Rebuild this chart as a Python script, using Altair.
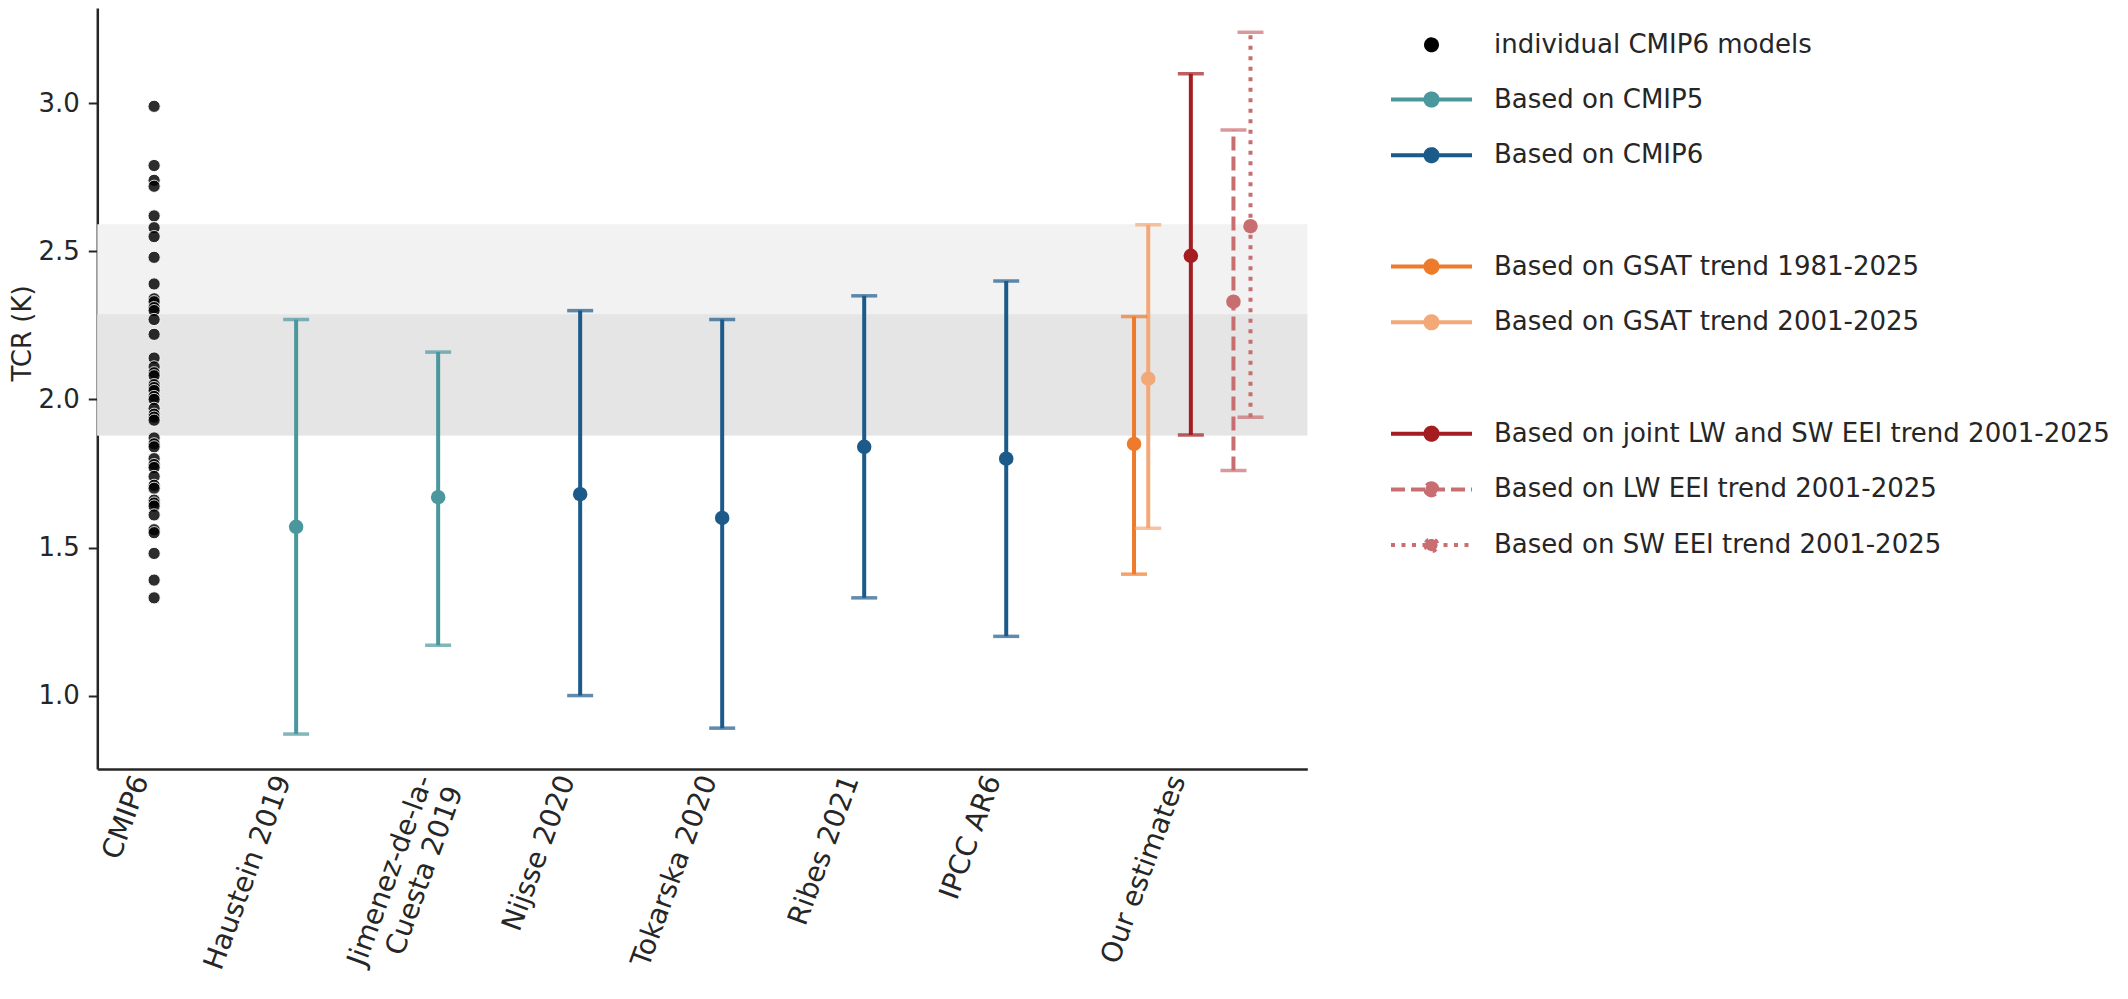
import json
import altair as alt
import pandas as pd

FONT = "DejaVu Sans"
INK = "#262626"

# individual CMIP6 models, TCR in K (all drawn at the first slot)
cmip6_pos = 0
cmip6_tcr = [2.99, 2.79, 2.74, 2.72, 2.62, 2.58, 2.55, 2.48, 2.39, 2.34,
             2.33, 2.31, 2.30, 2.27, 2.22, 2.14, 2.11, 2.09, 2.08, 2.05,
             2.04, 2.03, 2.01, 2.00, 1.97, 1.95, 1.94, 1.93, 1.87, 1.85,
             1.84, 1.80, 1.78, 1.77, 1.74, 1.71, 1.70, 1.66, 1.65, 1.64,
             1.61, 1.56, 1.55, 1.48, 1.39, 1.33]

# published estimates
study_pos = [1, 2, 3, 4, 5, 6]
study_best = [1.57, 1.67, 1.68, 1.60, 1.84, 1.80]
study_low = [0.87, 1.17, 1.00, 0.89, 1.33, 1.20]
study_high = [2.27, 2.16, 2.30, 2.27, 2.35, 2.40]
study_key = ["cmip5", "cmip5", "cmip6", "cmip6", "cmip6", "cmip6"]

# our estimates
our_pos = [6.9, 7.0, 7.3, 7.6, 7.72]
our_best = [1.85, 2.07, 2.485, 2.33, 2.585]
our_low = [1.41, 1.565, 1.88, 1.76, 1.94]
our_high = [2.28, 2.59, 3.10, 2.91, 3.24]
our_key = ["gsat81", "gsat01", "joint", "lw", "sw"]
our_dash = ["solid", "solid", "solid", "dashed", "dotted"]

# x tick positions and labels
tick_pos = [0, 1, 2, 3, 4, 5, 6, 7.3]
tick_labels = ["CMIP6", "Haustein 2019", "Jimenez-de-la-\nCuesta 2019",
               "Nijsse 2020", "Tokarska 2020", "Ribes 2021", "IPCC AR6",
               "Our estimates"]

# shaded ranges
band_low = [1.878, 1.878]
band_high = [2.592, 2.288]
band_colors = ["#F2F2F2", "#E5E5E5"]

key_domain = ["cmip5", "cmip6", "gsat81", "gsat01", "joint", "lw", "sw"]
key_colors = ["#4B979E", "#1C5A8A", "#EE7A2B", "#F3A878", "#A31D21",
              "#C96E70", "#C96E70"]

legend_labels = ["individual CMIP6 models", "Based on CMIP5", "Based on CMIP6",
                 " ",
                 "Based on GSAT trend 1981-2025", "Based on GSAT trend 2001-2025",
                 "  ",
                 "Based on joint LW and SW EEI trend 2001-2025",
                 "Based on LW EEI trend 2001-2025",
                 "Based on SW EEI trend 2001-2025"]
legend_colors = ["#000000", "#4B979E", "#1C5A8A", "#FFFFFF", "#EE7A2B",
                 "#F3A878", "#FFFFFF", "#A31D21", "#C96E70", "#C96E70"]
legend_dashes = [[1, 0]] * 8 + [[14, 6], [4, 6.5]]

DOT = "M-0.27,0A0.27,0.27,0,1,0,0.27,0A0.27,0.27,0,1,0,-0.27,0Z"
LINE = "M-2,0L2,0M-0.3,0A0.3,0.3,0,1,0,0.3,0A0.3,0.3,0,1,0,-0.3,0Z"
legend_shapes = [DOT] + [LINE] * 9

# ---------------------------------------------------------------- tables
dots = pd.DataFrame({"pos": cmip6_pos, "tcr": cmip6_tcr})
bands = pd.DataFrame({"low": band_low, "high": band_high, "c": band_colors})
eb = pd.DataFrame({
    "pos": study_pos + our_pos,
    "best": study_best + our_best,
    "low": study_low + our_low,
    "high": study_high + our_high,
    "key": study_key + our_key,
    "dash": ["solid"] * len(study_pos) + our_dash,
})
leg = pd.DataFrame({"label": legend_labels, "show": False})


def lit(lbl):
    parts = lbl.split("\n")
    return json.dumps(parts if len(parts) > 1 else parts[0])


label_expr = " : ".join(
    f"datum.value == {p} ? {lit(l)}" for p, l in zip(tick_pos, tick_labels)
) + " : ''"

x_scale = alt.Scale(domain=[-0.4, 8.12], nice=False, zero=False)
y_scale = alt.Scale(domain=[0.752, 3.322], nice=False, zero=False)

x_axis = alt.Axis(values=tick_pos, labelExpr=label_expr, labelAngle=290,
                  labelAlign="right", labelBaseline="bottom", labelPadding=12,
                  labelFont=FONT, labelFontSize=28, labelColor=INK,
                  labelLineHeight=32, labelOverlap=False, labelFlush=False,
                  labelLimit=500, ticks=False, grid=False, title=None,
                  domainColor=INK, domainWidth=2.5)
y_axis = alt.Axis(values=[1.0, 1.5, 2.0, 2.5, 3.0], format=".1f",
                  title="TCR (K)", titleFont=FONT, titleFontSize=26,
                  titleFontWeight="normal", titleColor=INK,
                  titleX=-62, titleY=325, titleBaseline="bottom",
                  titleAngle=270, titleAlign="center",
                  labelFont=FONT, labelFontSize=26,
                  labelColor=INK, labelPadding=9, tickSize=9, tickWidth=2,
                  tickColor=INK, domainColor=INK, domainWidth=2.5, grid=False)


def xenc(field):
    return alt.X(f"{field}:Q", scale=x_scale, axis=x_axis)


def yenc(field):
    return alt.Y(f"{field}:Q", scale=y_scale, axis=y_axis)


key_color = alt.Color("key:N", scale=alt.Scale(domain=key_domain, range=key_colors),
                      legend=None)

band_layers = [
    alt.Chart(bands.iloc[[i]]).mark_rect(color=band_colors[i]).encode(
        y=yenc("low"), y2="high")
    for i in range(len(band_low))
]

dot_layer = alt.Chart(dots).mark_circle(
    size=150, color="black", opacity=0.82, stroke="white", strokeWidth=1
).encode(x=xenc("pos"), y=yenc("tcr"))

dash_styles = {"solid": None, "dashed": [14, 6], "dotted": [4, 6.5]}
rule_layers = []
for style, pattern in dash_styles.items():
    kw = {"strokeWidth": 4}
    if pattern:
        kw["strokeDash"] = pattern
    rule_layers.append(
        alt.Chart(eb).transform_filter(alt.datum.dash == style)
        .mark_rule(**kw)
        .encode(x=xenc("pos"), y=yenc("low"), y2="high", color=key_color)
    )

caps = alt.Chart(eb).transform_fold(["low", "high"], as_=["end", "val"]).mark_tick(
    orient="horizontal", size=26, thickness=3.5
).encode(x=xenc("pos"), y=yenc("val"), color=key_color)

centers = alt.Chart(eb).mark_circle(size=210, opacity=1).encode(
    x=xenc("pos"), y=yenc("best"), color=key_color)

legend = alt.Legend(title=None, orient="none", legendX=1311.7, legendY=14.3,
                    direction="vertical", symbolSize=1640, symbolStrokeWidth=4,
                    symbolOpacity=1, symbolOffset=0, labelFont=FONT,
                    labelFontSize=26, labelColor=INK, labelOffset=40,
                    labelLimit=1000, rowPadding=18.7, padding=0)

legend_layer = alt.Chart(leg).transform_filter("datum.show").mark_point(
    filled=True, size=1640, strokeWidth=4
).encode(
    fill=alt.Fill("label:N", scale=alt.Scale(domain=legend_labels, range=legend_colors),
                  legend=legend),
    stroke=alt.Stroke("label:N", scale=alt.Scale(domain=legend_labels, range=legend_colors),
                      legend=legend),
    shape=alt.Shape("label:N", scale=alt.Scale(domain=legend_labels, range=legend_shapes),
                    legend=legend),
    strokeDash=alt.StrokeDash("label:N",
                              scale=alt.Scale(domain=legend_labels, range=legend_dashes),
                              legend=legend),
)

chart = alt.layer(
    *band_layers, dot_layer, *rule_layers, caps, centers, legend_layer
).properties(
    width=1210,
    height=761,
    autosize=alt.AutoSizeParams(type="none"),
    padding={"left": 89.3, "top": 0, "right": 812.7, "bottom": 220},
    background="white",
).configure_view(
    stroke="transparent"
)

chart.save("out.html", embed_options={"renderer": "svg", "actions": False})
